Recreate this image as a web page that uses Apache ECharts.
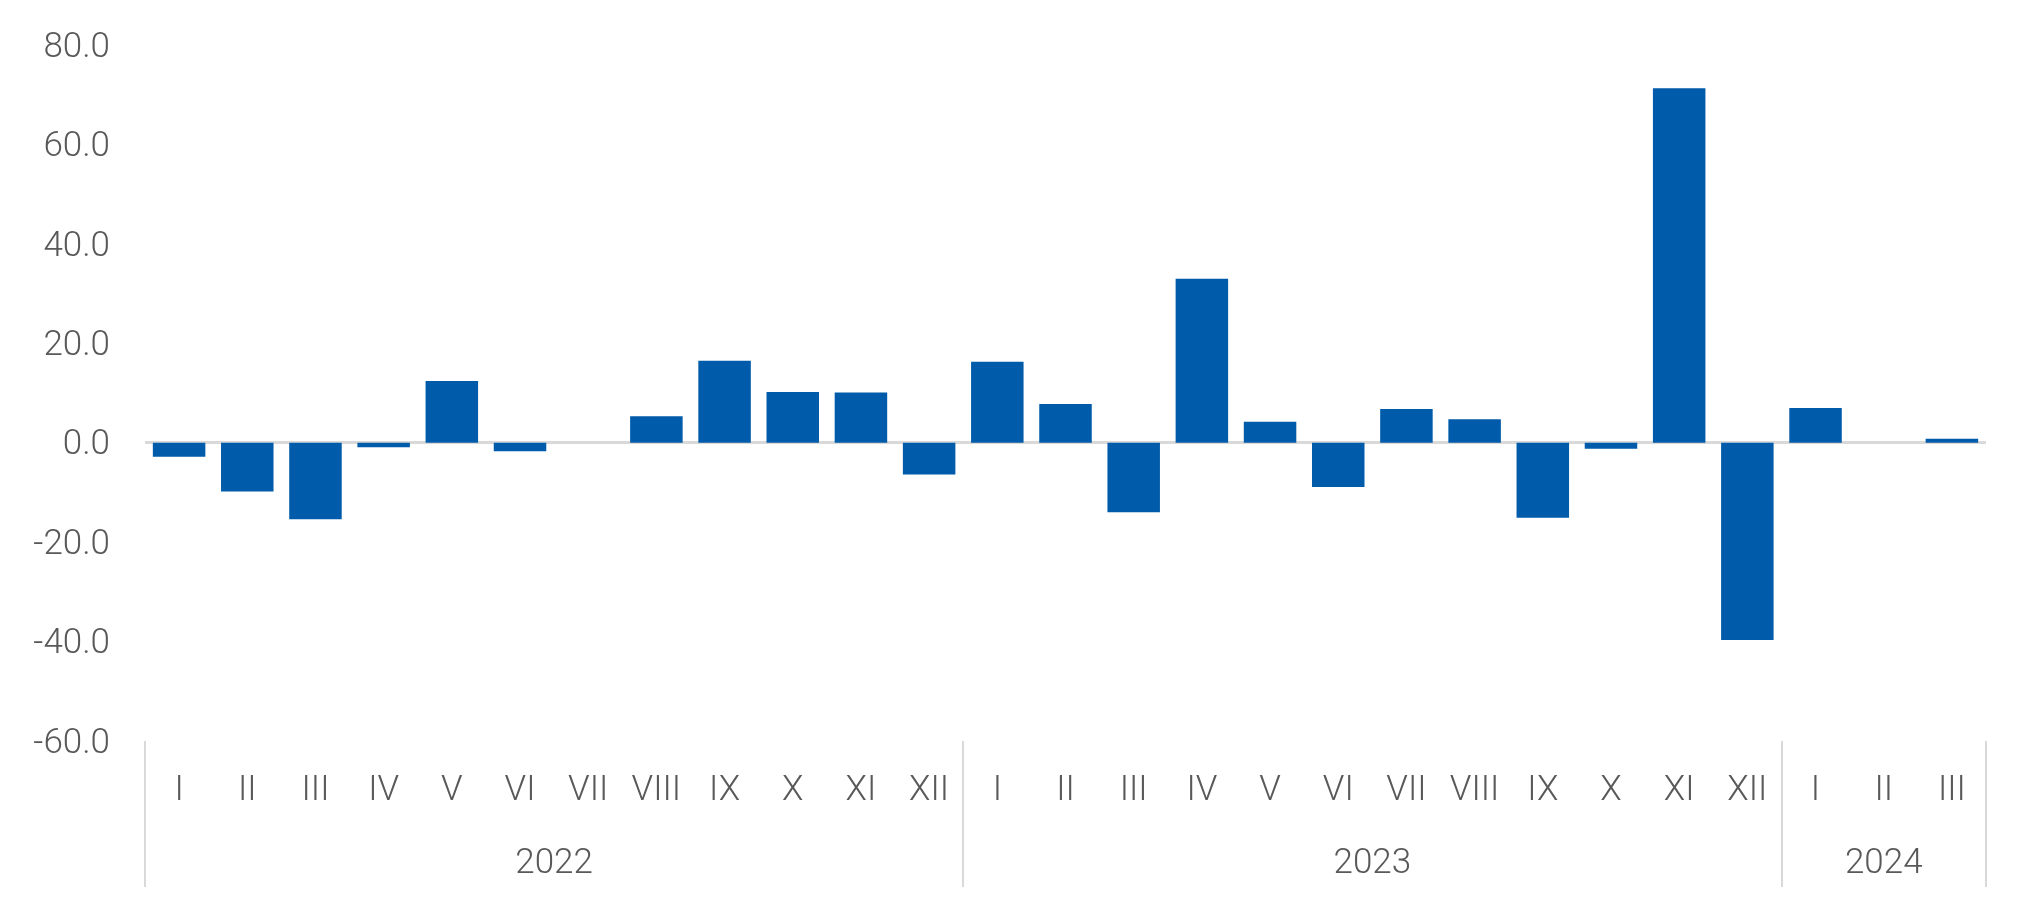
<!DOCTYPE html>
<html>
<head>
<meta charset="utf-8">
<script src="https://cdn.jsdelivr.net/npm/echarts@6/dist/echarts.min.js"></script>
<style>
html,body{margin:0;padding:0;background:#fff;}
#chart{width:2034px;height:908px;}
</style>
</head>
<body>
<div id="chart"></div>
<script>
const months = ['I','II','III','IV','V','VI','VII','VIII','IX','X','XI','XII',
                'I','II','III','IV','V','VI','VII','VIII','IX','X','XI','XII',
                'I','II','III'];
const values = [-2.8, -9.8, -15.4, -0.9, 12.4, -1.7, 0, 5.3, 16.5, 10.2, 10.1, -6.4,
                16.3, 7.8, -14.0, 33.0, 4.2, -8.9, 6.8, 4.7, -15.1, -1.2, 71.3, -39.7,
                7.0, 0, 0.8];
const years = ['2022', '2023', '2024'];
const yearStarts = [0, 12, 24];
const yearEnds = [12, 24, 27];
const yTicks = { min: -60, max: 80, interval: 20 };

const yearCenters = yearStarts.map((s, i) => (s + yearEnds[i]) / 2);
const yearBoundaries = yearStarts.concat([yearEnds[yearEnds.length - 1]]);

const textColor = '#595959';
const font = 'Roboto';

const chart = echarts.init(document.getElementById('chart'), null, { renderer: 'canvas' });
chart.setOption({
  backgroundColor: '#ffffff',
  animation: false,
  grid: { left: 145, right: 48, top: 45, bottom: 167, containLabel: false },
  xAxis: [
    {
      type: 'category',
      data: months,
      position: 'bottom',
      axisLine: { show: false, onZero: false },
      axisTick: { show: false },
      axisLabel: {
        color: textColor, fontFamily: font, fontWeight: 300, fontSize: 35,
        margin: 33, interval: 0
      },
      splitLine: { show: false }
    },
    {
      type: 'value',
      min: 0,
      max: 27,
      position: 'bottom',
      axisLine: { show: false, onZero: false },
      splitLine: { show: false },
      axisTick: {
        show: true, inside: false, length: 146,
        customValues: yearBoundaries,
        lineStyle: { color: '#d9d9d9', width: 2 }
      },
      axisLabel: {
        show: true,
        customValues: yearCenters,
        color: textColor, fontFamily: font, fontWeight: 300, fontSize: 35,
        margin: 106,
        formatter: function (v) {
          const i = yearCenters.indexOf(v);
          return i >= 0 ? years[i] : '';
        }
      }
    }
  ],
  yAxis: {
    type: 'value',
    min: yTicks.min,
    max: yTicks.max,
    interval: yTicks.interval,
    axisLine: { show: false },
    axisTick: { show: false },
    splitLine: { show: false },
    axisLabel: {
      color: textColor, fontFamily: font, fontWeight: 300, fontSize: 35,
      margin: 35,
      formatter: v => '{t|' + v.toFixed(1) + '}',
      rich: {
        t: { color: textColor, fontFamily: font, fontWeight: 300, fontSize: 35, padding: [6, 0, 0, 0] }
      }
    }
  },
  series: [{
    type: 'bar',
    data: values,
    xAxisIndex: 0,
    barCategoryGap: '23%',
    itemStyle: { color: '#005BAA' },
    markLine: {
      silent: true,
      symbol: ['none', 'none'],
      label: { show: false },
      lineStyle: { color: '#d9d9d9', width: 3, type: 'solid' },
      data: [{ yAxis: 0 }],
      z: 1
    },
    z: 2
  }]
});
</script>
</body>
</html>
